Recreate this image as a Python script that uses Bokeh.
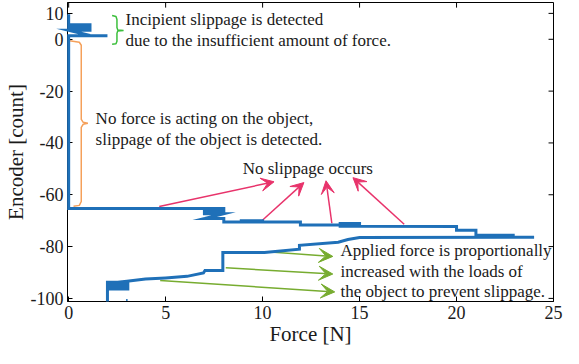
from bokeh.plotting import figure
from bokeh.models import Range1d, FixedTicker, Arrow, VeeHead, ColumnDataSource
from bokeh.core.properties import value
from bokeh.embed import file_html
from bokeh.resources import INLINE

# ---- data ----
upper_force = [0, 0, 1.1, 1.1, 0, 0, 1.1, 1.1, 0, 1.1, 2.0, 0, 0, 7.0, 8.0, 8.0, 7.0, 7.0, 8.0, 7.0,
               8.0, 8.0, 8.9, 10.0, 10.0, 8.9, 8.9, 11.95, 11.95, 14.0, 15.0, 15.0, 14.0, 14.0, 15.0,
               20.0, 20.0, 21.0, 21.0, 23.0]
upper_encoder = [9.7, 5.6, 5.6, 4.9, 4.9, 4.2, 4.2, 3.5, 3.5, 1.5, 1.4, 1.4, -65.3, -65.3, -65.3, -66.3,
                 -66.3, -67.3, -67.3, -69.2, -69.2, -70.5, -70.5, -70.5, -70.0, -70.0, -70.5, -70.5,
                 -71.7, -71.7, -71.7, -71.1, -71.1, -72.2, -72.2, -72.3, -73.7, -73.7, -75.6, -75.6]

lower_force = [2.0, 2.0, 3.05, 3.05, 2.0, 2.0, 3.05, 3.05, 2.0, 2.0, 3.0, 3.96, 5.0, 6.1, 6.95, 7.03,
               7.95, 7.95, 10.1, 11.9, 11.9, 13.9, 14.4, 15.0, 24.0]
lower_encoder = [-101.2, -93.8, -93.8, -94.7, -94.7, -95.6, -95.6, -96.4, -96.4, -94.2, -93.4, -92.5,
                 -92.1, -91.5, -90.2, -89.2, -89.2, -82.3, -82.3, -81.0, -79.5, -78.3, -77.3, -76.5, -76.4]

dot_force = [3.0, 3.0]
dot_encoder = [-101.0, -100.2]

x_ticks = [0, 5, 10, 15, 20, 25]
x_tick_labels = ["0", "5", "10", "15", "20", "25"]
y_ticks = [-100, -80, -60, -40, -20, 0, 10]
y_tick_labels = ["-100", "-80", "-60", "-40", "-20", "0", "10"]

# ---- annotations ----
green_brace_x = [2.24, 2.44, 2.49, 2.49, 2.53, 2.83, 2.53, 2.49, 2.49, 2.44, 2.24]
green_brace_y = [9.16, 8.78, 7.63, 4.58, 3.63, 3.44, 3.24, 2.29, -0.76, -1.72, -1.91]
orange_brace_x = [0.05, 0.55, 0.65, 0.65, 0.75, 0.99, 0.75, 0.65, 0.65, 0.55, 0.25]
orange_brace_y = [-0.57, -1.15, -2.29, -30.9, -32.06, -32.4, -32.8, -33.97, -62.6, -64.1, -64.4]

pink_x0 = [4.67, 9.99, 13.57, 17.30]
pink_y0 = [-64.5, -69.85, -71.0, -71.4]
pink_x1 = [10.59, 12.13, 13.27, 14.66]
pink_y1 = [-55.0, -55.3, -54.6, -53.4]

green_x0 = [10.39, 8.10, 4.72]
green_y0 = [-82.1, -88.2, -93.1]
green_x1 = [13.62, 13.62, 13.72]
green_y1 = [-83.8, -90.6, -97.5]

left_texts = ["Incipient slippage is detected", "due to the insufficient amount of force.",
              "No force is acting on the object,", "slippage of the object is detected.",
              "Applied force is proportionally", "increased with the loads of",
              "the object to prevent slippage."]
left_text_x = [2.93, 2.93, 1.39, 1.39, 14.02, 14.02, 14.02]
left_text_y = [7.75, -0.5, -30.5, -38.5, -81.7, -89.7, -97.3]
center_texts = ["No slippage occurs"]
center_text_x = [12.33]
center_text_y = [-50.0]

BLUE = "#1f70b8"
PINK = "#e8336b"
GREEN = "#77ac30"
BRACE_GREEN = "#3cbf3c"
ORANGE = "#f5a05a"
FONT = "Liberation Serif"
TXT = "#1a1a1a"

X0, X1 = -0.06, 25
Y0, Y1 = -101.2, 14.2

p = figure(width=563, height=348, x_range=Range1d(X0, X1), y_range=Range1d(Y0, Y1),
           output_backend="svg", toolbar_location=None,
           min_border_left=0, min_border_right=10, min_border_top=2, min_border_bottom=0)
p.background_fill_color = "white"
p.border_fill_color = "white"
p.outline_line_color = "black"
p.outline_line_width = 1
p.xgrid.visible = False
p.ygrid.visible = False

for ax in (p.xaxis[0], p.yaxis[0]):
    ax.major_tick_in = 5
    ax.major_tick_out = 0
    ax.minor_tick_line_color = None
    ax.axis_line_color = "black"
    ax.major_tick_line_color = "black"
    ax.major_label_text_font = FONT
    ax.major_label_text_font_size = "18px"
    ax.major_label_text_color = TXT
    ax.axis_label_text_font = FONT
    ax.axis_label_text_font_size = "21px"
    ax.axis_label_text_font_style = "normal"
    ax.axis_label_text_color = TXT

p.xaxis.ticker = FixedTicker(ticks=x_ticks)
p.yaxis.ticker = FixedTicker(ticks=y_ticks)
p.xaxis.major_label_overrides = dict(zip(x_ticks, x_tick_labels))
p.yaxis.major_label_overrides = dict(zip(y_ticks, y_tick_labels))
p.xaxis.axis_label = "Force [N]"
p.yaxis.axis_label = "Encoder [count]"
p.xaxis.major_label_standoff = 4
p.xaxis.axis_label_standoff = 0
p.yaxis.major_label_standoff = 4
p.yaxis.axis_label_standoff = 0

# inward tick marks on the right and top borders (box style), derived from the tick lists
tick_dx = (X1 - X0) * 5 / 490.0
tick_dy = (Y1 - Y0) * 5 / 292.0
p.segment(x0=[X1] * len(y_ticks), y0=y_ticks, x1=[X1 - tick_dx] * len(y_ticks), y1=y_ticks,
          line_color="black", line_width=1)
p.segment(x0=x_ticks, y0=[Y1] * len(x_ticks), x1=x_ticks, y1=[Y1 - tick_dy] * len(x_ticks),
          line_color="black", line_width=1)

# braces
p.line(green_brace_x, green_brace_y, line_color=BRACE_GREEN, line_width=1.5)
p.line(orange_brace_x, orange_brace_y, line_color=ORANGE, line_width=1.5)

# data lines (drawn above the axis line, as in the reference)
for fx, ey in ((upper_force, upper_encoder), (lower_force, lower_encoder)):
    r = p.line(fx, ey, line_color=BLUE, line_width=3, line_join="miter")
    r.level = "overlay"
r = p.line(dot_force, dot_encoder, line_color=BLUE, line_width=1.5)
r.level = "overlay"

# arrows
psrc = ColumnDataSource(dict(x0=pink_x0, y0=pink_y0, x1=pink_x1, y1=pink_y1))
p.add_layout(Arrow(source=psrc, x_start="x0", y_start="y0", x_end="x1", y_end="y1",
                   line_color=PINK, line_width=1.5,
                   end=VeeHead(size=13, fill_color=PINK, line_color=PINK, line_width=1)))
gsrc = ColumnDataSource(dict(x0=green_x0, y0=green_y0, x1=green_x1, y1=green_y1))
p.add_layout(Arrow(source=gsrc, x_start="x0", y_start="y0", x_end="x1", y_end="y1",
                   line_color=GREEN, line_width=1.5,
                   end=VeeHead(size=14, fill_color=GREEN, line_color=GREEN, line_width=1)))

# texts
p.text(left_text_x, left_text_y, text=left_texts, text_font=value(FONT),
       text_font_size=value("17px"), text_align="left", text_baseline="middle", text_color=TXT)
p.text(center_text_x, center_text_y, text=center_texts, text_font=value(FONT),
       text_font_size=value("17px"), text_align="center", text_baseline="middle", text_color=TXT)

open("out.html", "w").write(file_html(p, INLINE))
